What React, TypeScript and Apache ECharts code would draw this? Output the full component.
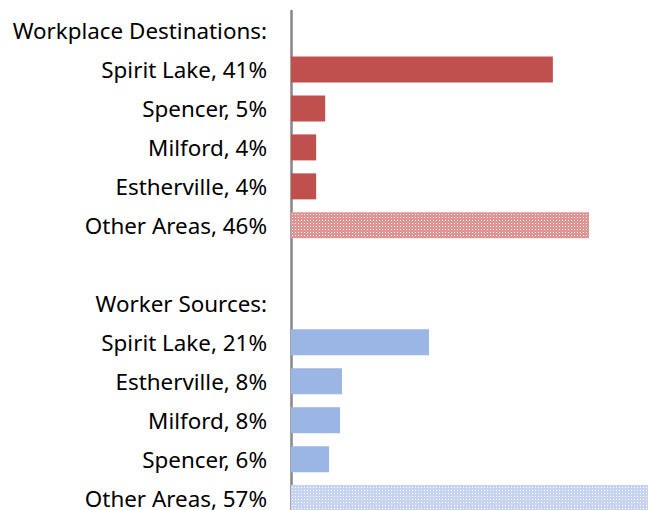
import React, { useEffect, useRef } from "react";
import * as echarts from "echarts";

const categories = [
  "Workplace Destinations:",
  "Spirit Lake, 41%",
  "Spencer, 5%",
  "Milford, 4%",
  "Estherville, 4%",
  "Other Areas, 46%",
  "",
  "Worker Sources:",
  "Spirit Lake, 21%",
  "Estherville, 8%",
  "Milford, 8%",
  "Spencer, 6%",
  "Other Areas, 57%",
];

// bar lengths (percent)
const destinationValues = [40.6, 5.3, 3.9, 3.9, 46.2];
const sourceValues = [21.4, 7.9, 7.6, 5.9, 57];

const RED = "#C0504D";
const BLUE = "#9BB5E4";

function makePattern(base: string, dot: string) {
  const c = document.createElement("canvas");
  c.width = 3;
  c.height = 3;
  const ctx = c.getContext("2d")!;
  ctx.fillStyle = base;
  ctx.fillRect(0, 0, 3, 3);
  ctx.fillStyle = dot;
  ctx.fillRect(1, 1, 1, 1);
  return { image: c, repeat: "repeat", imageWidth: 3, imageHeight: 3 } as any;
}

export default function App() {
  const ref = useRef<HTMLDivElement>(null);
  useEffect(() => {
    if (!ref.current) return;
    const chart = echarts.init(ref.current, undefined, { renderer: "svg" });
    const redPattern = makePattern("#DE9694", "#FBEDED");
    const bluePattern = makePattern("#C6D4F2", "#FFFFFF");

    const data: any[] = [];
    data.push({ value: null });
    destinationValues.forEach((v, i) => {
      data.push({
        value: v,
        itemStyle: { color: i === destinationValues.length - 1 ? redPattern : RED },
      });
    });
    data.push({ value: null });
    data.push({ value: null });
    sourceValues.forEach((v, i) => {
      data.push({
        value: v,
        itemStyle: { color: i === sourceValues.length - 1 ? bluePattern : BLUE },
      });
    });

    chart.setOption({
      animation: false,
      grid: { left: 291, top: 11, width: 387, height: 506.6 },
      xAxis: {
        type: "value",
        min: 0,
        max: 60,
        show: false,
        splitLine: { show: false },
      },
      yAxis: {
        type: "category",
        inverse: true,
        data: categories,
        axisLine: { show: true, lineStyle: { color: "#868686", width: 2.5 } },
        axisTick: { show: false },
        axisLabel: {
          margin: 24,
          color: "#000000",
          fontFamily: "Noto Sans",
          fontSize: 22.4,
        },
      },
      series: [
        {
          type: "bar",
          data,
          barWidth: 26,
        },
      ],
    });
    return () => chart.dispose();
  }, []);
  return (
    <div
      ref={ref}
      style={{ position: "fixed", left: 0, top: 0, width: 700, height: 530, background: "#fff" }}
    />
  );
}
